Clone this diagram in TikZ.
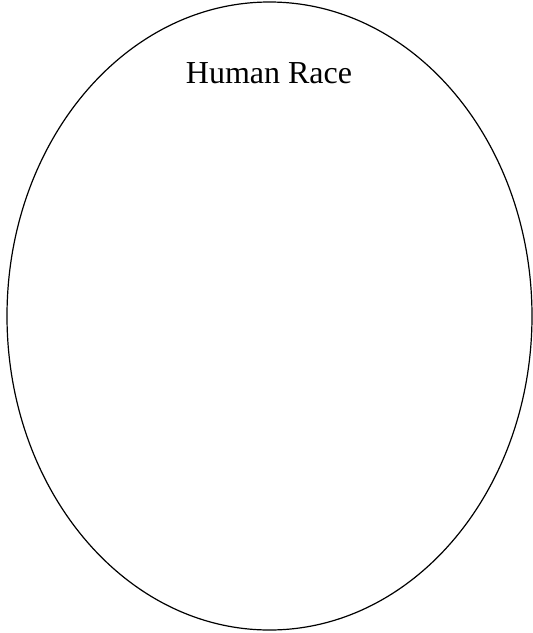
\documentclass[tikz,border=0pt]{standalone}
\usetikzlibrary{shapes.geometric}
\usepackage{fontspec}
\setmainfont{Liberation Serif}
\begin{document}
\begin{tikzpicture}[x=1pt,y=-1pt]
\useasboundingbox (0,0) rectangle (533,633);
\node[draw,ellipse,line width=1.2pt,minimum width=525pt,minimum height=628pt,inner sep=0pt] (race) at (269.5,316) {};
\node[font=\fontsize{32}{36}\selectfont,anchor=center] (lbl) at (269,73) {Human Race};
\end{tikzpicture}
\end{document}
